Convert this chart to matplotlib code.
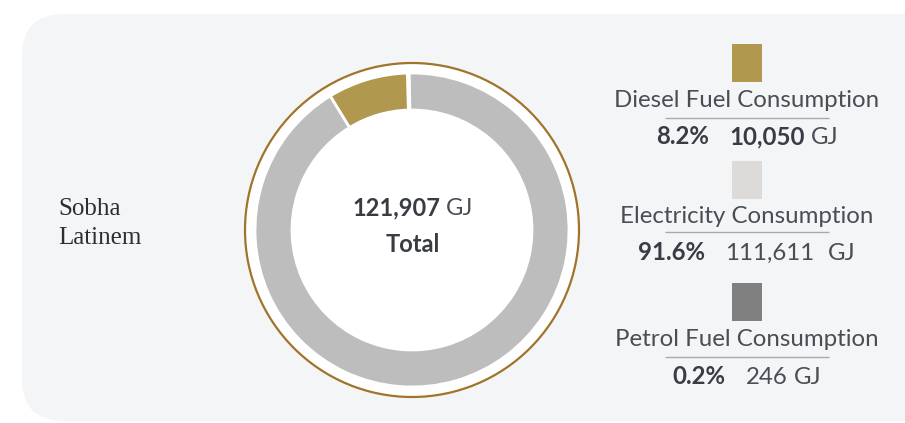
import matplotlib
matplotlib.use("Agg")
import matplotlib.pyplot as plt
from matplotlib.patches import FancyBboxPatch, Circle, Rectangle

# Energy consumption breakdown (GJ)
categories = ["Diesel Fuel Consumption", "Electricity Consumption", "Petrol Fuel Consumption"]
values_gj = [10050, 111611, 246]
pct_labels = ["8.2%", "91.6%", "0.2%"]
value_labels = ["10,050", "111,611", "246"]
value_bold = [True, False, False]
unit_sep = [" ", "  ", " "]
total_label = "121,907"
site_name = "Sobha\nLatinem"

ring_colors = ["#b0984f", "#bdbdbd", "#808080"]
swatch_colors = ["#b0984f", "#dcdbd9", "#808080"]

W, H = 905, 423
fig = plt.figure(figsize=(W / 100, H / 100), dpi=100)
ax = fig.add_axes([0, 0, 1, 1])
ax.set_xlim(0, W)
ax.set_ylim(0, H)
ax.axis("off")
fig.patch.set_facecolor("white")


def Y(py):
    return H - py


SANS = "Lato"
DARK = "#3a3c44"
MID = "#4b4d55"
FS = 17.3

# card background
ax.add_patch(FancyBboxPatch((22, Y(421)), 930, 407,
                            boxstyle="round,pad=0,rounding_size=42",
                            facecolor="#f4f5f7", edgecolor="none", zorder=0))

# donut
cx, cy = 412, Y(230)
ax.add_patch(Circle((cx, cy), 167, facecolor="white", edgecolor="#a0742a",
                    lw=1.6, zorder=1))
order = [2, 0, 1]  # petrol, diesel, electricity counter-clockwise from top
wedges, _ = ax.pie([values_gj[i] for i in order],
                   colors=[ring_colors[i] for i in order],
                   startangle=91, counterclock=True, center=(cx, cy), radius=157,
                   wedgeprops=dict(width=37, edgecolor="white", linewidth=2),
                   frame=True)
for w in wedges:
    w.set_zorder(2)
ax.set_xlim(0, W)
ax.set_ylim(0, H)
ax.set_aspect("auto")
ax.axis("off")

renderer = fig.canvas.get_renderer()


def row(xc, base, parts, size):
    """Draw a row of mixed-weight text pieces centred on xc at baseline base."""
    texts = []
    widths = []
    for s, weight, color, gap in parts:
        t = ax.text(0, Y(base), s, fontsize=size, fontweight=weight, color=color,
                    family=SANS, ha="left", va="baseline", zorder=5)
        texts.append((t, gap))
        widths.append(t.get_window_extent(renderer).width)
    total = sum(widths) + sum(g for _, g in texts[:-1])
    x = xc - total / 2
    for (t, gap), w in zip(texts, widths):
        t.set_x(x)
        x += w + gap


# centre total
row(413, 215, [(total_label, "bold", DARK, 6), ("GJ", "normal", MID, 0)], 17)
row(413, 252, [("Total", "bold", DARK, 0)], 17)

# site name
ax.text(58, Y(215), site_name.split("\n")[0], family="Liberation Serif",
        fontsize=18, color="#2e2e2e", va="baseline", ha="left")
ax.text(58, Y(244), site_name.split("\n")[1], family="Liberation Serif",
        fontsize=18, color="#2e2e2e", va="baseline", ha="left")

# legend blocks
lx = 747
swatch_tops = [44, 161, 283]
label_base = [107, 223, 346]
line_y = [118, 232, 357]
value_base = [144, 260, 384]
for i, name in enumerate(categories):
    ax.add_patch(Rectangle((lx - 15, Y(swatch_tops[i] + 38)), 30, 38,
                           facecolor=swatch_colors[i], edgecolor="none", zorder=3))
    ax.text(lx, Y(label_base[i]), name, family=SANS, fontsize=FS, color=MID,
            ha="center", va="baseline", zorder=5)
    ax.plot([lx - 82, lx + 82], [Y(line_y[i])] * 2, color="#a9a9a9", lw=1.0,
            solid_capstyle="butt", zorder=4)
    vw = "bold" if value_bold[i] else "normal"
    vc = DARK if value_bold[i] else MID
    gj_gap = 14 if unit_sep[i] == "  " else 6
    row(lx, value_base[i], [(pct_labels[i], "bold", DARK, 20),
                            (value_labels[i], vw, vc, gj_gap),
                            ("GJ", "normal", MID, 0)], FS)

fig.savefig("out.png", dpi=100, facecolor="white")
